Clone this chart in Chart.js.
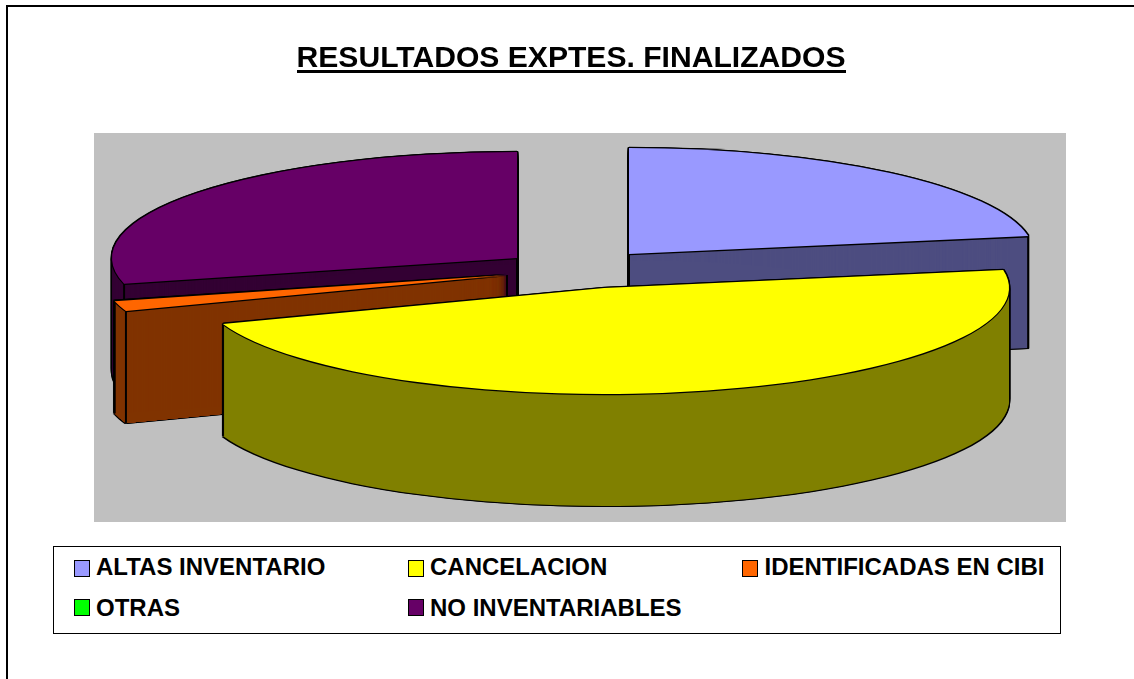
<!DOCTYPE html>
<html lang="es">
<head>
<meta charset="utf-8">
<style>
html,body{margin:0;padding:0;background:#fff;overflow:hidden}
#wrap{position:relative;width:1134px;height:679px;font-family:"Liberation Sans",Arial,sans-serif}
#plot{position:absolute;left:0;top:0}
#legend{position:absolute;left:53px;top:546px;width:1006px;height:86px;border:1.5px solid #000;background:#fff}
.item{position:absolute;font-weight:bold;font-size:24px;line-height:28px;color:#000;white-space:nowrap}
.sw{position:absolute;width:14px;height:15px;border:1.5px solid #000;box-sizing:content-box}
</style>
</head>
<body>
<div id="wrap">
<canvas id="plot" width="1134" height="679"></canvas>
<div id="legend"></div>
</div>
<script src="https://cdn.jsdelivr.net/npm/chart.js@4"></script>
<script>
const chartTitle = "RESULTADOS EXPTES. FINALIZADOS";
const categories = ["ALTAS INVENTARIO","CANCELACION","IDENTIFICADAS EN CIBI","OTRAS","NO INVENTARIABLES"];
const values = [22.3,47.2,1.5,0.1,28.9];
const topColors = ["#9999ff","#ffff00","#ff6600","#00ff00","#660066"];
const wallColors = ["#4d4d80","#808000","#803300","#008000","#330033"];
const sliceCentersX = [629,604,507,507,517];
const sliceCentersY = [254,288,275,275,258];
const drawOrder = [0,4,3,2,1];
const legendColumns = [19.5,353.5,688,19.5,353.5];
const legendSwatchRows = [12.5,12.5,12.5,51.5,51.5];
const legendTextRows = [5.5,5.5,5.5,47,47];

const RX=405, RY=106, DEPTH=112, OUT=1.3;

const pie3d = {
  id:'pie3d',
  beforeDatasetsDraw(chart){
    const ctx = chart.ctx;
    const arcs = chart.getDatasetMeta(0).data;
    const ka = RY/RX;
    ctx.save();
    ctx.fillStyle = '#c0c0c0';
    ctx.fillRect(94,133,972,389);
    ctx.restore();

    const paint = (i, fill, dx, dy) => {
      const arc = arcs[i];
      const s = RX/arc.outerRadius;
      const proxy = Object.create(arc);
      proxy.options = {backgroundColor:fill,borderColor:fill,borderWidth:0,offset:0,spacing:0,
        borderRadius:0,circular:true,borderAlign:'center',borderJoinStyle:'round'};
      ctx.save();
      ctx.translate(sliceCentersX[i]+dx, sliceCentersY[i]+dy);
      ctx.scale(s, s*ka);
      ctx.translate(-arc.x,-arc.y);
      arc.constructor.prototype.draw.call(proxy, ctx);
      ctx.restore();
    };

    const edges = (i) => {
      const arc = arcs[i];
      const ox = sliceCentersX[i], oy = sliceCentersY[i];
      const a = arc.startAngle, b = arc.endAngle;
      const pts = [];
      if (Math.sin(a)>0 || Math.sin(a-Math.PI/2)>0) pts.push([ox+Math.cos(a)*RX, oy+Math.sin(a)*RY]);
      if (Math.sin(b)>0 || Math.sin(b+Math.PI/2)>0) pts.push([ox+Math.cos(b)*RX, oy+Math.sin(b)*RY]);
      if (Math.sin(a-Math.PI/2)>0 || Math.sin(b+Math.PI/2)>0) pts.push([ox,oy]);
      ctx.save();
      ctx.strokeStyle='#000'; ctx.lineWidth=2;
      pts.forEach(p=>{ctx.beginPath();ctx.moveTo(p[0],p[1]);ctx.lineTo(p[0],p[1]+DEPTH);ctx.stroke();});
      ctx.restore();
    };

    drawOrder.forEach(i=>{
      const c = arcs[i].circumference;
      const passes = (c>0.02 && c<0.5) ? 10 : 1;
      for(let y=-1;y<=DEPTH+1;y++){ paint(i,'#000',-OUT,y); paint(i,'#000',OUT,y); }
      for(let p=0;p<passes;p++){ for(let y=1;y<=DEPTH;y++){ paint(i,wallColors[i],0,y); } }
      edges(i);
      [[-OUT,0],[OUT,0],[0,-OUT],[0,OUT]].forEach(o=>paint(i,'#000',o[0],o[1]));
      paint(i,topColors[i],0,0);
    });
    return false;
  },
  afterDraw(chart){
    const ctx = chart.ctx, t = chart.titleBlock;
    ctx.save();
    ctx.font = 'bold 30.1px "Liberation Sans"';
    const w = ctx.measureText(chartTitle).width;
    ctx.fillStyle='#000';
    ctx.fillRect(Math.round(t.left+t.width/2-w/2),70,Math.round(w),3);
    ctx.fillRect(6,5,2,674);
    ctx.fillRect(6,5,1128,2);
    ctx.restore();
  }
};

new Chart(document.getElementById('plot'),{
  type:'pie',
  data:{labels:categories,datasets:[{data:values,backgroundColor:topColors,borderWidth:0}]},
  options:{
    responsive:false,animation:false,
    events:[],
    layout:{padding:{left:8}},
    plugins:{
      legend:{display:false},
      tooltip:{enabled:false},
      title:{display:true,text:chartTitle,color:'#000',
        font:{family:'"Liberation Sans"',size:30.1,weight:'bold'},
        padding:{top:40.5,bottom:10}}
    }
  },
  plugins:[pie3d]
});

const legend = document.getElementById('legend');
categories.forEach((c,i)=>{
  const sw = document.createElement('div');
  sw.className='sw';
  sw.style.left=legendColumns[i]+'px';
  sw.style.top=legendSwatchRows[i]+'px';
  sw.style.background=topColors[i];
  legend.appendChild(sw);
  const it = document.createElement('div');
  it.className='item';
  it.textContent=c;
  it.style.left=(legendColumns[i]+22.5)+'px';
  it.style.top=legendTextRows[i]+'px';
  legend.appendChild(it);
});
</script>
</body>
</html>
